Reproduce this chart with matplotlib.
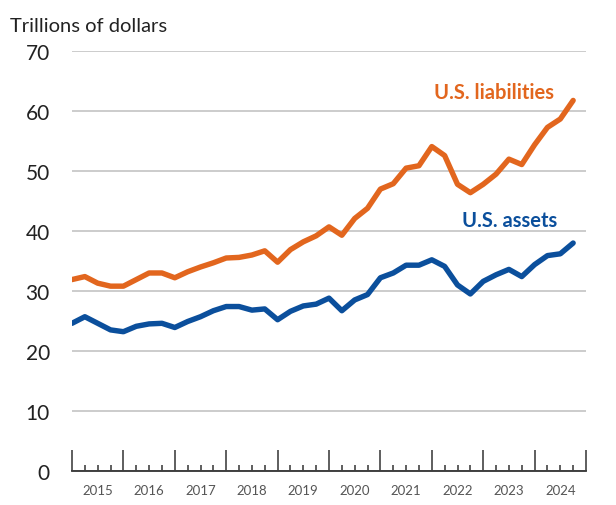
import matplotlib
matplotlib.use("Agg")
import matplotlib.pyplot as plt
from matplotlib.ticker import MultipleLocator

plt.rcParams['font.family'] = ['Lato', 'DejaVu Sans']

liabilities = [31.9, 32.4, 31.3, 30.8, 30.8, 31.9, 33.0, 33.0, 32.2, 33.2,
               34.0, 34.7, 35.5, 35.6, 36.0, 36.7, 34.8, 36.9, 38.2, 39.2,
               40.7, 39.3, 42.1, 43.8, 47.0, 47.9, 50.5, 50.9, 54.1, 52.6,
               47.8, 46.4, 47.8, 49.5, 52.0, 51.1, 54.4, 57.3, 58.7, 61.8]
assets = [24.6, 25.7, 24.6, 23.5, 23.2, 24.1, 24.5, 24.6, 23.9, 24.9,
          25.7, 26.7, 27.4, 27.4, 26.8, 27.0, 25.2, 26.6, 27.5, 27.8,
          28.8, 26.7, 28.5, 29.4, 32.2, 33.0, 34.3, 34.3, 35.2, 34.1,
          31.0, 29.5, 31.6, 32.7, 33.6, 32.4, 34.4, 35.9, 36.2, 38.0]
year_labels = ["2015", "2016", "2017", "2018", "2019",
               "2020", "2021", "2022", "2023", "2024"]
y_ticks = [0, 10, 20, 30, 40, 50, 60, 70]

orange = '#E2661E'
blue = '#0B4F9C'

fig = plt.figure(figsize=(6.16, 5.06), dpi=100)
ax = fig.add_axes([72/616, 1 - 471.7/506, (586-72)/616, (471.7-52.3)/506])

x = list(range(len(liabilities)))
ax.plot(x, liabilities, color=orange, lw=3.9, solid_joinstyle='round', solid_capstyle='round')
ax.plot(x, assets, color=blue, lw=3.9, solid_joinstyle='round', solid_capstyle='round')

ax.set_xlim(0, 40)
ax.set_ylim(0, 70)
ax.set_yticks(y_ticks)
ax.set_yticklabels([str(v) for v in y_ticks], fontsize=15, color='#222222')
ax.yaxis.grid(True, color='#BFBFBF', lw=1.1)
ax.set_axisbelow(True)
ax.tick_params(axis='y', length=0, pad=16)

ax.xaxis.set_major_locator(MultipleLocator(4))
ax.xaxis.set_minor_locator(MultipleLocator(1))
ax.tick_params(axis='x', which='major', direction='in', length=15, width=1.1, color='#333333', labelbottom=False)
ax.tick_params(axis='x', which='minor', direction='in', length=4.3, width=1.1, color='#333333')

for s in ['top', 'right', 'left']:
    ax.spines[s].set_visible(False)
ax.spines['bottom'].set_color('#333333')
ax.spines['bottom'].set_linewidth(1.3)

for k, lab in enumerate(year_labels):
    ax.text(4*k + 2, -3.3, lab, ha='center', va='center', fontsize=9.5, color='#555555')

fig.text(10/616, 1 - 26/506, "Trillions of dollars", ha='left', va='center', fontsize=14.5, color='#222222')
fig.text(494/616, 1 - 93/506, "U.S. liabilities", ha='center', va='center', fontsize=14.5, fontweight='bold', color=orange)
fig.text(510/616, 1 - 221/506, "U.S. assets", ha='center', va='center', fontsize=14.5, fontweight='bold', color=blue)

fig.savefig('out.png', dpi=100)
